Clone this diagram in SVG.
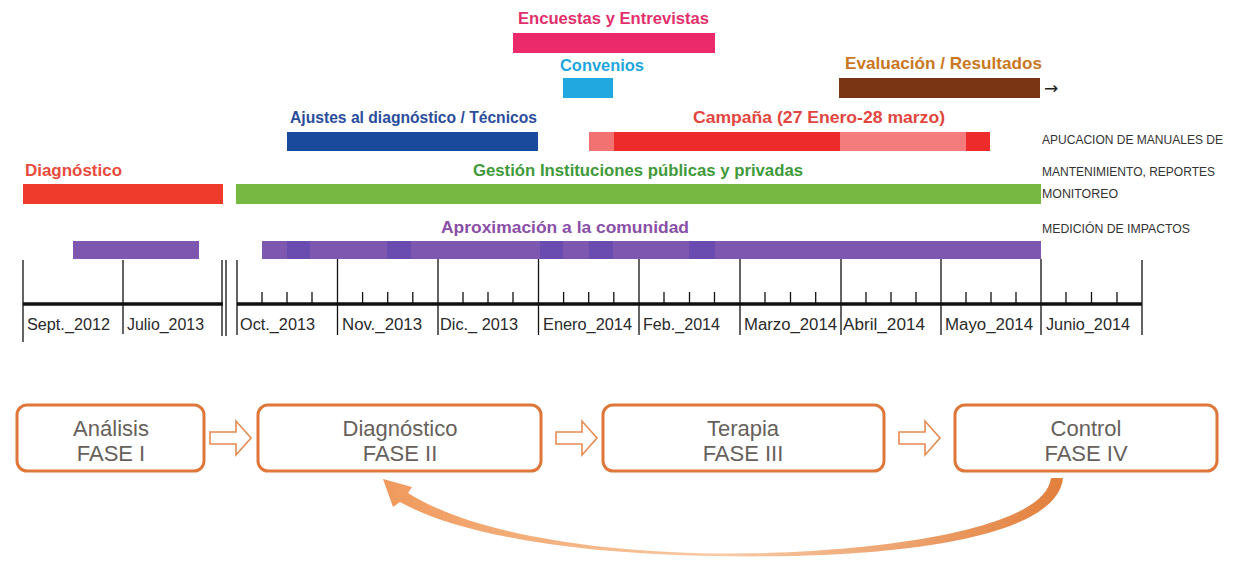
<svg xmlns="http://www.w3.org/2000/svg" width="1233" height="569" viewBox="0 0 1233 569">
<defs>
<style>
.lbl{font-family:"Liberation Sans","DejaVu Sans",sans-serif;font-weight:bold;font-size:17px}
.mon{font-family:"Liberation Sans","DejaVu Sans",sans-serif;font-size:16px;fill:#2a2a2a}
.note{font-family:"Liberation Sans","DejaVu Sans",sans-serif;font-size:12px;fill:#333}
.ax{stroke:#111;stroke-width:1.3;fill:none}
.axm{stroke:#111;stroke-width:3.5;fill:none}
.box{fill:#fff;stroke:#E0773A;stroke-width:3}
.ph{font-family:"Liberation Sans","DejaVu Sans",sans-serif;font-size:22px;fill:#66605c;text-anchor:middle}
.harr{fill:#fff;stroke:#E58A50;stroke-width:1.6;stroke-linejoin:miter}
</style>
<linearGradient id="cg" x1="0" y1="0" x2="1" y2="0">
<stop offset="0" stop-color="#F0995C"/>
<stop offset="0.5" stop-color="#F8CBA6"/>
<stop offset="1" stop-color="#E27F3C"/>
</linearGradient>
</defs>
<rect width="1233" height="569" fill="#fff"/>

<g id="encuestas">
<text class="lbl" x="518" y="24" textLength="191" lengthAdjust="spacingAndGlyphs" fill="#E2306C">Encuestas y Entrevistas</text>
<rect x="513" y="33" width="202" height="20" fill="#EA2A6A"/>
</g>
<g id="convenios">
<text class="lbl" x="560" y="71" textLength="84" lengthAdjust="spacingAndGlyphs" fill="#1EA6DE">Convenios</text>
<rect x="563" y="78" width="50" height="20" fill="#22A8E0"/>
</g>
<g id="evaluacion">
<text class="lbl" x="845" y="69" textLength="197" lengthAdjust="spacingAndGlyphs" fill="#C9781F">Evaluación / Resultados</text>
<rect x="839" y="78" width="201" height="20" fill="#7A3514"/>
<text x="1044" y="94" font-family="DejaVu Sans, sans-serif" font-size="17" fill="#222">→</text>
</g>
<g id="ajustes">
<text class="lbl" x="290" y="123" textLength="247" lengthAdjust="spacingAndGlyphs" fill="#2B4D9C">Ajustes al diagnóstico / Técnicos</text>
<rect x="287" y="132" width="251" height="19" fill="#1A4A9C"/>
</g>
<g id="campana">
<text class="lbl" x="693" y="123" textLength="252" lengthAdjust="spacingAndGlyphs" fill="#E2463F">Campaña (27 Enero-28 marzo)</text>
<rect x="589" y="132" width="25" height="19" fill="#F27272"/>
<rect x="614" y="132" width="226" height="19" fill="#EE2B2B"/>
<rect x="840" y="132" width="126" height="19" fill="#F47C7C"/>
<rect x="966" y="132" width="24" height="19" fill="#EE2B2B"/>
</g>
<g id="diagnostico">
<text class="lbl" x="25" y="176" textLength="97" lengthAdjust="spacingAndGlyphs" fill="#E84A3C">Diagnóstico</text>
<rect x="23" y="184" width="200" height="20" fill="#EE3B2C"/>
</g>
<g id="gestion">
<text class="lbl" x="473" y="176" textLength="330" lengthAdjust="spacingAndGlyphs" fill="#3F9A3C">Gestión Instituciones públicas y privadas</text>
<rect x="236" y="184" width="805" height="20" fill="#77B843"/>
</g>
<g id="aproximacion">
<text class="lbl" x="441" y="233" textLength="248" lengthAdjust="spacingAndGlyphs" fill="#8A4FA8">Aproximación a la comunidad</text>
<rect x="73" y="241" width="126" height="18" fill="#7E57B0"/>
<rect x="262" y="241" width="779" height="18" fill="#7E57B0"/>
<g fill="#6A4CB0">
<rect x="287" y="241" width="23" height="18"/>
<rect x="387" y="241" width="24" height="18"/>
<rect x="540" y="241" width="23" height="18"/>
<rect x="589" y="241" width="24" height="18"/>
<rect x="689" y="241" width="26" height="18"/>
</g>
</g>
<g id="notes">
<text class="note" x="1042" y="144" textLength="181" lengthAdjust="spacingAndGlyphs">APUCACION DE MANUALES DE</text>
<text class="note" x="1042" y="176" textLength="173" lengthAdjust="spacingAndGlyphs">MANTENIMIENTO, REPORTES</text>
<text class="note" x="1042" y="198" textLength="76" lengthAdjust="spacingAndGlyphs">MONITOREO</text>
<text class="note" x="1042" y="233" textLength="148" lengthAdjust="spacingAndGlyphs">MEDICIÓN DE IMPACTOS</text>
</g>

<g id="timeline">
<path class="axm" d="M23 304H223M237 304H1142"/>
<path class="ax" d="M23 260V342M123 260V334M222 260V336M226 260V336M237 260V335M337.5 259V335M438 259V335M538.5 259V335M639 259V335M740 259V335M841 259V335M941 259V335M1041 259V335M1142 260V335"/>
<path class="ax" d="M262 292V304M287 292V304M312 292V304M362.6 292V304M387.7 292V304M412.8 292V304M463 292V304M488 292V304M513 292V304M563.6 292V304M588.7 292V304M613.8 292V304M664 292V304M689.5 292V304M714.5 292V304M765 292V304M790.5 292V304M815.7 292V304M866 292V304M891 292V304M916 292V304M966 292V304M991 292V304M1016 292V304M1066 292V304M1091.5 292V304M1117 292V304"/>
<text class="mon" x="27" y="330" textLength="83" lengthAdjust="spacingAndGlyphs">Sept._2012</text>
<text class="mon" x="127" y="330" textLength="77" lengthAdjust="spacingAndGlyphs">Julio_2013</text>
<text class="mon" x="240" y="330" textLength="75" lengthAdjust="spacingAndGlyphs">Oct._2013</text>
<text class="mon" x="342" y="330" textLength="80" lengthAdjust="spacingAndGlyphs">Nov._2013</text>
<text class="mon" x="440" y="330" textLength="78" lengthAdjust="spacingAndGlyphs">Dic._ 2013</text>
<text class="mon" x="543" y="330" textLength="89" lengthAdjust="spacingAndGlyphs">Enero_2014</text>
<text class="mon" x="643" y="330" textLength="77" lengthAdjust="spacingAndGlyphs">Feb._2014</text>
<text class="mon" x="744" y="330" textLength="93" lengthAdjust="spacingAndGlyphs">Marzo_2014</text>
<text class="mon" x="843" y="330" textLength="82" lengthAdjust="spacingAndGlyphs">Abril_2014</text>
<text class="mon" x="945" y="330" textLength="88" lengthAdjust="spacingAndGlyphs">Mayo_2014</text>
<text class="mon" x="1046" y="330" textLength="84" lengthAdjust="spacingAndGlyphs">Junio_2014</text>
</g>

<g id="fase1">
<rect class="box" x="17" y="405" width="187" height="66" rx="10"/>
<text class="ph" x="111" y="436">Análisis</text>
<text class="ph" x="111" y="461">FASE I</text>
</g>
<g id="fase2">
<rect class="box" x="258" y="405" width="283" height="66" rx="10"/>
<text class="ph" x="400" y="436">Diagnóstico</text>
<text class="ph" x="400" y="461">FASE II</text>
</g>
<g id="fase3">
<rect class="box" x="603" y="405" width="281" height="66" rx="10"/>
<text class="ph" x="743" y="436">Terapia</text>
<text class="ph" x="743" y="461">FASE III</text>
</g>
<g id="fase4">
<rect class="box" x="955" y="405" width="262" height="66" rx="10"/>
<text class="ph" x="1086" y="436">Control</text>
<text class="ph" x="1086" y="461">FASE IV</text>
</g>

<g id="connectors">
<path class="harr" d="M210 432H236V421L251 438L236 455V444H210Z"/>
<path class="harr" d="M556 432H582V421L597 438L582 455V444H556Z"/>
<path class="harr" d="M899 432H925V421L940 438L925 455V444H899Z"/>
<path fill="url(#cg)" d="M1063 478C1056 546 855 559 715 556C568 554 455 533 400 502L393 507L383 479L412 487L408 493C463 528 572 551 715 553.5C845 555 1044 535 1051 478Z"/>
</g>
</svg>
